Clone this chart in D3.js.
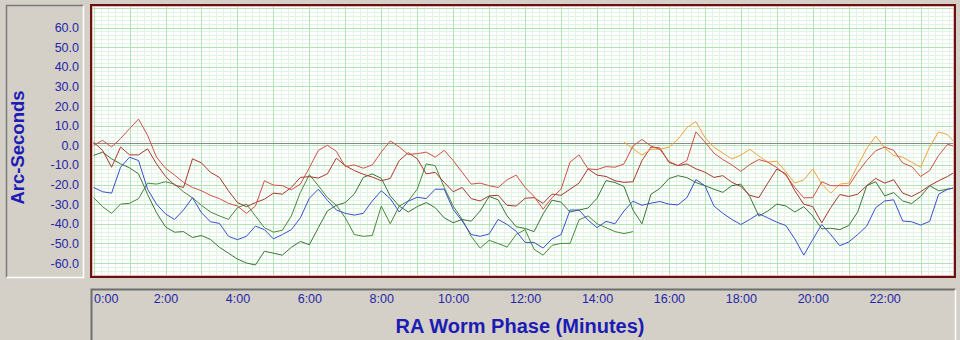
<!DOCTYPE html>
<html>
<head>
<meta charset="utf-8">
<script src="https://cdn.jsdelivr.net/npm/d3@7"></script>
<style>
  body { margin: 0; background: #d4d0c8; }
  svg { display: block; font-family: Arial, "Liberation Sans", sans-serif; }
</style>
</head>
<body>
<svg id="chart" width="960" height="340"></svg>
<script>
// samples every quarter minute of the worm period
const sampleStep = 0.25;

const yTicks = [60, 50, 40, 30, 20, 10, 0, -10, -20, -30, -40, -50, -60];
const xTicks = [0, 2, 4, 6, 8, 10, 12, 14, 16, 18, 20, 22];
const xTickLabels = ["0:00", "2:00", "4:00", "6:00", "8:00", "10:00", "12:00",
                     "14:00", "16:00", "18:00", "20:00", "22:00"];

// arc-seconds, one row per minute
const blueValues = [
  -21.5, -23.7, -24.4, -11.2,
  -6.1, -7.8, -22.4, -30,
  -35, -37.8, -33, -26.7,
  -34.4, -39, -39.8, -46.4,
  -48.1, -46.4, -41.2, -43,
  -47.7, -45.5, -43, -37,
  -27, -22.4, -28, -33,
  -34.7, -35.6, -34.7, -28.4,
  -23.2, -27.2, -34, -28.5,
  -26.5, -27.2, -22.4, -22.4,
  -32.7, -38.6, -45.5, -46.4,
  -45.2, -37.8, -40.4, -43.8,
  -49.5, -49.5, -52.4, -47.7,
  -45.5, -33, -33, -38.1,
  -42, -38.8, -40, -33.5,
  -28.5, -30.6, -29.5, -28.7,
  -30, -30.4, -26.7, -17.5,
  -20.6, -30.9, -34.7, -37.8,
  -40.4, -37.8, -34.9, -37,
  -39.2, -40.9, -47.7, -56,
  -48, -40.4, -45.5, -51.2,
  -49.3, -45.5, -41.2, -31.8,
  -28.4, -27.8, -38.6, -39,
  -40.7, -38.8, -25, -22.4,
  -21.5
];

const green1Values = [
  -5.2, -3.5, -6.9, -9.5,
  -11.5, -14.6, -25, -34.4,
  -41.6, -44.3, -44, -47,
  -46, -48, -52, -55,
  -58, -60, -61, -54,
  -55, -56, -52, -49,
  -50.7, -42, -33.5, -30.6,
  -29.2, -24.9, -16.4, -14.6,
  -16.9, -25.8, -31, -34,
  -31.3, -29.2, -31.8, -37,
  -39.5, -37.8, -38.7, -33.5,
  -26.1, -27.8, -36, -41.5,
  -42.4, -44, -35, -28,
  -29, -34, -33, -32,
  -27, -18, -19, -21,
  -33, -40, -25, -22,
  -17, -15.5, -16.5, -19,
  -20.6, -22.4, -24, -20.6,
  -19.8, -26.2, -36.1, -33.5,
  -30, -30.9, -34, -31.3,
  -36.1, -42.6, -42.3, -43,
  -40.9, -34, -20.6, -18.6,
  -25.8, -24.1, -28.4, -29.7,
  -26.1, -20.6, -23.2, -22.4,
  -21.5
];

// partial cycle, 0:00 to 15:00
const green2Values = [
  -26.7, -31.3, -34.7, -30,
  -29.6, -27.2, -19.3, -19.8,
  -18.6, -19.8, -23.7, -26.8,
  -30.6, -34, -36, -37.8,
  -31.8, -30, -36, -42,
  -44.3, -43.3, -36, -24,
  -15, -20.6, -26.6, -30.6,
  -37, -45.5, -46.4, -46,
  -31, -40, -31, -28.4,
  -22.4, -9.5, -10.4, -21.5,
  -31, -37.8, -46.4, -52.4,
  -48.4, -50.1, -51.9, -45.5,
  -43, -53, -56, -51,
  -50, -50, -38, -36,
  -40, -42, -44, -45,
  -44
];

const redAValues = [
  0, 2.5, -0.9, 3.4,
  8.5, 13.3, 5.1, -6.1,
  -11.7, -15.2, -18.9, -21.5,
  -23.2, -25.5, -27.2, -29.6,
  -31, -34.7, -31, -18.1,
  -20.3, -20.6, -22.7, -19.8,
  -11.5, -2.6, 0, -3.1,
  -10.9, -10, -11.7, -10,
  -3.5, 2.2, -0.9, -4.7,
  -4.3, -3.5, -6.1, -2.6,
  -7.8, -13.8, -19.8, -19.3,
  -20.6, -21.5, -17.6, -15.2,
  -21.5, -26.1, -32.6, -26.7,
  -22.4, -8.6, -4.9, -12,
  -12.4, -10.9, -11.2, -9.5,
  -0.4, 3, -0.4, -2.1,
  -8.3, -10.3, -7.8, 6.8,
  1.7, -4, -7.3, -10,
  -13.3, -9.8, -7.3, -8.6,
  -11.4, -15.2, -21.5, -26.8,
  -26.7, -18.6, -20.6, -20.6,
  -20.6, -13.8, -7.8, -2.8,
  -0.9, -2.6, -9, -10.9,
  -15.9, -12.9, -5.2, 0.5,
  -0.9
];

const redBValues = [
  1.6, -2.6, -11.2, -0.9,
  -4.9, -4.9, -1.8, -9.5,
  -15.9, -20.3, -21.5, -6.9,
  -9, -13.8, -16.4, -23.2,
  -29.2, -31.3, -29.2, -27.5,
  -24.4, -24.9, -21.5, -16.4,
  -16, -16.7, -14.6, -6.6,
  -10.4, -12.9, -14.8, -16.2,
  -18.1, -16.9, -7.8, -3.8,
  -6.9, -14.6, -13.8, -18.9,
  -23.7, -21.5, -27.2, -28.4,
  -25.8, -25.5, -30.6, -31,
  -27, -26.7, -29.6, -24.9,
  -25.5, -22.4, -19.3, -12,
  -15.2, -15.9, -18.1, -18.9,
  -18.6, -7.8, -0.9, -1.4,
  -8.7, -10.4, -9.5, -12,
  -13.7, -16.4, -15.5, -18.9,
  -21, -25.5, -26.7, -19.3,
  -12.1, -14.6, -23.2, -30,
  -31.3, -39.5, -31.8, -25.1,
  -26.1, -24.9, -20.6, -16.9,
  -19.3, -17.6, -24.4, -26.1,
  -23.7, -20.6, -18.1, -15.9,
  -13
];

// partial cycle, 14:45 to 24:00
const orangeStart = 14.75;
const orangeValues = [
  1.6,
  -1.8, -5, -2, -2,
  -1, 3, 9, 12,
  4, -1, -4, -7,
  -5, -2.1, -5.5, -8.6,
  -8.1, -13.5, -19.3, -17.6,
  -12.1, -19.8, -24.4, -19.8,
  -19.3, -10.3, -1.7, 4.7,
  -1.4, -5.2, -6.1, -8.6,
  -11.2, -0.9, 6.8, 5.4,
  0.3
];

const series = [
  { values: green2Values, start: 0, color: "#468a3c" },
  { values: green1Values, start: 0, color: "#3a763a" },
  { values: blueValues, start: 0, color: "#3a4fd0" },
  { values: redBValues, start: 0, color: "#a8382e" },
  { values: orangeValues, start: orangeStart, color: "#f2a23a" },
  { values: redAValues, start: 0, color: "#cf5048" }
];

const svg = d3.select("#chart");
const textBlue = "#1c1cb4";
const tickBlue = "#2626a6";

const plot = { left: 90, top: 4, right: 956, bottom: 278 };
const inner = { left: 92, top: 6, right: 954, bottom: 276 };

const x = d3.scaleLinear().domain([0, 24]).range([93.6, 956.6]);
const y = d3.scaleLinear().domain([-60, 60]).range([263, 27.5]);

// ---- left (y axis) panel ----
svg.append("rect")
  .attr("x", 6).attr("y", 5).attr("width", 78).attr("height", 273)
  .attr("fill", "#d4d0c8");
svg.append("path")
  .attr("d", "M6.5,277.5 V5.5 H83.5")
  .attr("fill", "none").attr("stroke", "#7a7a7a").attr("stroke-width", 1.5);
svg.append("path")
  .attr("d", "M83.5,5.5 V277.5 H6.5")
  .attr("fill", "none").attr("stroke", "#ffffff").attr("stroke-width", 1.5);

// ---- bottom (x axis) panel ----
svg.append("path")
  .attr("d", "M91.5,340 V289.5 H955.5")
  .attr("fill", "none").attr("stroke", "#6e6e6e").attr("stroke-width", 2);
svg.append("path")
  .attr("d", "M955.5,289.5 V340")
  .attr("fill", "none").attr("stroke", "#ffffff").attr("stroke-width", 1.5);

// ---- plot area ----
svg.append("rect")
  .attr("x", plot.left).attr("y", plot.top)
  .attr("width", plot.right - plot.left).attr("height", plot.bottom - plot.top)
  .attr("fill", "#ffffff");

svg.append("clipPath").attr("id", "clip")
  .append("rect")
  .attr("x", inner.left).attr("y", inner.top)
  .attr("width", inner.right - inner.left).attr("height", inner.bottom - inner.top);

const g = svg.append("g").attr("clip-path", "url(#clip)");

const yLo = y.invert(inner.bottom), yHi = y.invert(inner.top);
const minorY = d3.range(Math.ceil(yLo / 2) * 2, yHi, 2);
const minorX = d3.range(0, 24.001, 0.2);

// minor grid
g.selectAll("line.minor-x").data(minorX).enter().append("line")
  .attr("x1", d => Math.round(x(d)) + 0.5).attr("x2", d => Math.round(x(d)) + 0.5)
  .attr("y1", inner.top).attr("y2", inner.bottom)
  .attr("stroke", "#e2f5e2").attr("stroke-width", 1);
g.selectAll("line.minor-y").data(minorY).enter().append("line")
  .attr("y1", d => Math.round(y(d)) + 0.5).attr("y2", d => Math.round(y(d)) + 0.5)
  .attr("x1", inner.left).attr("x2", inner.right)
  .attr("stroke", "#e2f5e2").attr("stroke-width", 1);

// major grid
g.selectAll("line.major-x").data(minorX.filter((d, i) => i % 5 === 0)).enter().append("line")
  .attr("x1", d => Math.round(x(d)) + 0.5).attr("x2", d => Math.round(x(d)) + 0.5)
  .attr("y1", inner.top).attr("y2", inner.bottom)
  .attr("stroke", "#b2e3b2").attr("stroke-width", 1);
g.selectAll("line.major-y").data(minorY.filter(d => d % 10 === 0)).enter().append("line")
  .attr("y1", d => Math.round(y(d)) + 0.5).attr("y2", d => Math.round(y(d)) + 0.5)
  .attr("x1", inner.left).attr("x2", inner.right)
  .attr("stroke", "#b2e3b2").attr("stroke-width", 1);

// zero line
g.append("line")
  .attr("x1", inner.left).attr("x2", inner.right)
  .attr("y1", Math.round(y(0)) - 1.5).attr("y2", Math.round(y(0)) - 1.5)
  .attr("stroke", "#8a8a8a").attr("stroke-width", 1);

// data lines
const line = d3.line()
  .x(d => x(d.t))
  .y(d => y(d.v));

series.forEach(s => {
  const pts = s.values.map((v, i) => ({ t: s.start + i * sampleStep, v }));
  g.append("path")
    .datum(pts)
    .attr("d", line)
    .attr("fill", "none")
    .attr("stroke", s.color)
    .attr("stroke-width", 1)
    .attr("stroke-linejoin", "round");
});

// plot border
svg.append("rect")
  .attr("x", plot.left + 1).attr("y", plot.top + 1)
  .attr("width", plot.right - plot.left - 2).attr("height", plot.bottom - plot.top - 2)
  .attr("fill", "none").attr("stroke", "#6a1010").attr("stroke-width", 2);
svg.append("rect")
  .attr("x", plot.left + 2.5).attr("y", plot.top + 2.5)
  .attr("width", plot.right - plot.left - 5).attr("height", plot.bottom - plot.top - 5)
  .attr("fill", "none").attr("stroke", "#e6b8b8").attr("stroke-width", 1);

// ---- axes ----
const yAxis = svg.append("g")
  .attr("transform", "translate(79,0)")
  .call(d3.axisLeft(y).tickValues(yTicks).tickFormat(d => d.toFixed(1)).tickSize(0).tickPadding(0));
yAxis.select(".domain").remove();
yAxis.selectAll("text")
  .attr("font-family", "Arial, 'Liberation Sans', sans-serif")
  .attr("font-size", "12.5px")
  .attr("fill", tickBlue);

const xAxis = svg.append("g")
  .attr("transform", "translate(0,291.5)")
  .call(d3.axisBottom(x).tickValues(xTicks).tickFormat((d, i) => xTickLabels[i]).tickSize(0).tickPadding(3));
xAxis.select(".domain").remove();
xAxis.selectAll("text")
  .attr("font-family", "Arial, 'Liberation Sans', sans-serif")
  .attr("font-size", "12.5px")
  .attr("fill", tickBlue)
  .attr("text-anchor", (d, i) => i === 0 ? "start" : "middle");

// titles
svg.append("text")
  .attr("transform", "translate(24,147.5) rotate(-90)")
  .attr("text-anchor", "middle")
  .attr("font-weight", "bold")
  .attr("font-size", "18.5px")
  .attr("fill", textBlue)
  .text("Arc-Seconds");

svg.append("text")
  .attr("x", 520).attr("y", 333)
  .attr("text-anchor", "middle")
  .attr("font-weight", "bold")
  .attr("font-size", "20px")
  .attr("fill", textBlue)
  .text("RA Worm Phase (Minutes)");
</script>
</body>
</html>
